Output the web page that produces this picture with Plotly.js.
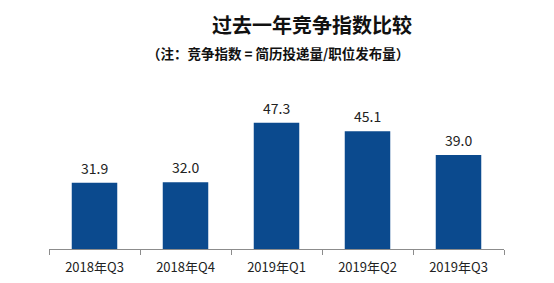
<!DOCTYPE html>
<html><head><meta charset="utf-8">
<script src="https://cdn.plot.ly/plotly-3.0.1.min.js"></script>
<style>html,body{margin:0;padding:0;background:#fff}#c{width:554px;height:283px}</style>
</head><body><div id="c"></div>
<script>
const categories = ["2018年Q3","2018年Q4","2019年Q1","2019年Q2","2019年Q3"];
const values = [31.9, 32.0, 47.3, 45.1, 39.0];
const titleText = "过去一年竞争指数比较";
const subtitleText = "（注：竞争指数 = 简历投递量/职位发布量）";
const font = "'Noto Sans CJK SC', 'Noto Sans', sans-serif";

const valueLabels = categories.map((c, i) => ({
  x: c, y: values[i], xref: "x", yref: "y", text: values[i].toFixed(1),
  showarrow: false, yanchor: "middle", yshift: 15,
  font: {family: font, size: 14, color: "#222"}
}));

Plotly.newPlot("c", [{
  type: "bar",
  x: categories,
  y: values,
  marker: {color: "#0B4A8E"},
  hoverinfo: "none"
}], {
  width: 554, height: 283,
  margin: {l: 49, r: 50, t: 80, b: 34},
  paper_bgcolor: "#fff", plot_bgcolor: "#fff",
  bargap: 0.5,
  showlegend: false,
  xaxis: {
    showline: true, linecolor: "#8c8c8c", linewidth: 1,
    ticks: "outside", tickson: "boundaries", ticklen: 5, tickcolor: "#8c8c8c",
    ticklabelstandoff: 6,
    tickfont: {family: font, size: 13, color: "#222"},
    showgrid: false, zeroline: false, fixedrange: true
  },
  yaxis: {
    range: [14.88, 58.26], visible: false, showgrid: false, zeroline: false, fixedrange: true
  },
  annotations: valueLabels.concat([
    {text: "<b>" + titleText + "</b>", xref: "paper", yref: "paper", x: (312-49)/455, y: 1 + (80-25)/169,
     xanchor: "center", yanchor: "middle", showarrow: false, font: {family: font, size: 20, color: "#111"}},
    {text: "<b>" + subtitleText + "</b>", xref: "paper", yref: "paper", x: (278-49)/455, y: 1 + (80-53)/169,
     xanchor: "center", yanchor: "middle", showarrow: false, font: {family: font, size: 13.5, color: "#111"}}
  ])
}, {staticPlot: true});
</script></body></html>
